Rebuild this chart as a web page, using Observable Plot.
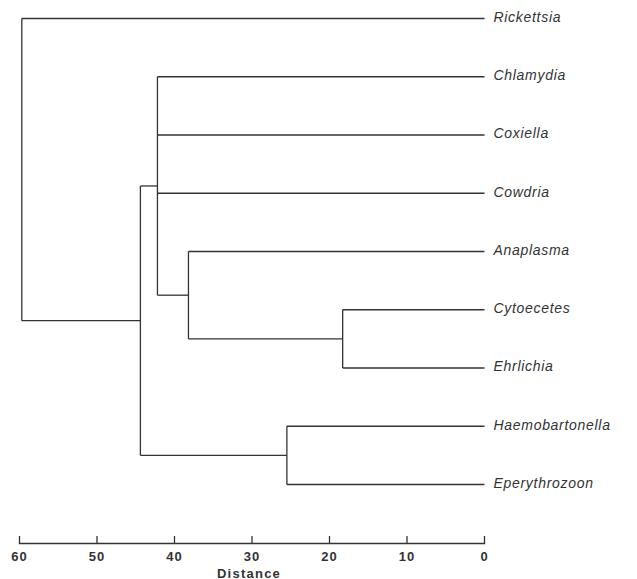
<!DOCTYPE html>
<html>
<head>
<meta charset="utf-8">
<script src="https://cdn.jsdelivr.net/npm/d3@7"></script>
<script src="https://cdn.jsdelivr.net/npm/@observablehq/plot@0.6"></script>
<style>
  html, body { margin: 0; padding: 0; background: #fff; }
  g[aria-label="text"] text { letter-spacing: 0.7px; }
  g[aria-label="x-axis tick label"] text { letter-spacing: 1px; }
</style>
</head>
<body>
<div id="chart"></div>
<script>
// Leaves (top to bottom)
const leaves = ["Rickettsia", "Chlamydia", "Coxiella", "Cowdria", "Anaplasma", "Cytoecetes", "Ehrlichia", "Haemobartonella", "Eperythrozoon"];
// Internal clusters, in merge order
const clusterNames = ["n1", "n2", "n3", "n4", "n5", "root"];
const clusterDistances = [18.3, 38.2, 42.2, 25.5, 44.4, 59.7];
const clusterChildren = [
  ["Cytoecetes", "Ehrlichia"],
  ["Anaplasma", "n1"],
  ["Chlamydia", "Coxiella", "Cowdria", "n2"],
  ["Haemobartonella", "Eperythrozoon"],
  ["n3", "n4"],
  ["Rickettsia", "n5"]
];
const distanceTicks = [60, 50, 40, 30, 20, 10, 0];
const axisTitle = "Distance";

// Build node positions (leaf order index for y, distance for x)
const pos = new Map();
leaves.forEach((name, i) => pos.set(name, {name, dist: 0, order: i}));
const segments = [];
clusterNames.forEach((name, k) => {
  const dist = clusterDistances[k];
  const kids = clusterChildren[k].map(c => pos.get(c));
  const lo = d3.min(kids, c => c.order), hi = d3.max(kids, c => c.order);
  segments.push({x1: dist, x2: dist, y1: lo, y2: hi});
  kids.forEach(c => segments.push({x1: dist, x2: c.dist, y1: c.order, y2: c.order}));
  pos.set(name, {name, dist, order: (lo + hi) / 2});
});
const leafNodes = leaves.map(n => pos.get(n));

const ink = "#333";
const chart = Plot.plot({
  width: 637,
  height: 579,
  marginLeft: 19,
  marginRight: 153,
  marginTop: 18,
  marginBottom: 36,
  style: {fontFamily: "'Liberation Sans', Arial, Helvetica, sans-serif", background: "#fff", color: ink},
  x: {domain: [60, 0]},
  y: {domain: [0, 8], range: [18, 484], axis: null},
  marks: [
    Plot.link(segments, {x1: "x1", x2: "x2", y1: "y1", y2: "y2", stroke: ink, strokeWidth: 1.3}),
    Plot.text(leafNodes, {x: "dist", y: "order", text: "name", textAnchor: "start", dx: 9, dy: -1,
      fontStyle: "italic", fontSize: 14, fill: ink}),
    Plot.frame({anchor: "bottom", stroke: ink, strokeWidth: 1.3}),
    Plot.axisX(distanceTicks, {tickSize: -7, fill: "none", stroke: ink, strokeWidth: 1.3, label: null}),
    Plot.axisX(distanceTicks, {tickSize: 0, tickPadding: 8, fontSize: 13, fontWeight: "bold", fill: ink, label: null}),
    Plot.text([axisTitle], {frameAnchor: "bottom", dx: -3, dy: 34, text: d => d, fontSize: 13, fontWeight: "bold",
      fill: ink, style: "letter-spacing:1.25px"})
  ]
});
// axis title spacing
d3.select(chart).selectAll('g[aria-label="text"]').filter((d, i, n) => i === n.length - 1)
  .selectAll("text").style("letter-spacing", "1.25px");
document.getElementById("chart").appendChild(chart);
</script>
</body>
</html>
